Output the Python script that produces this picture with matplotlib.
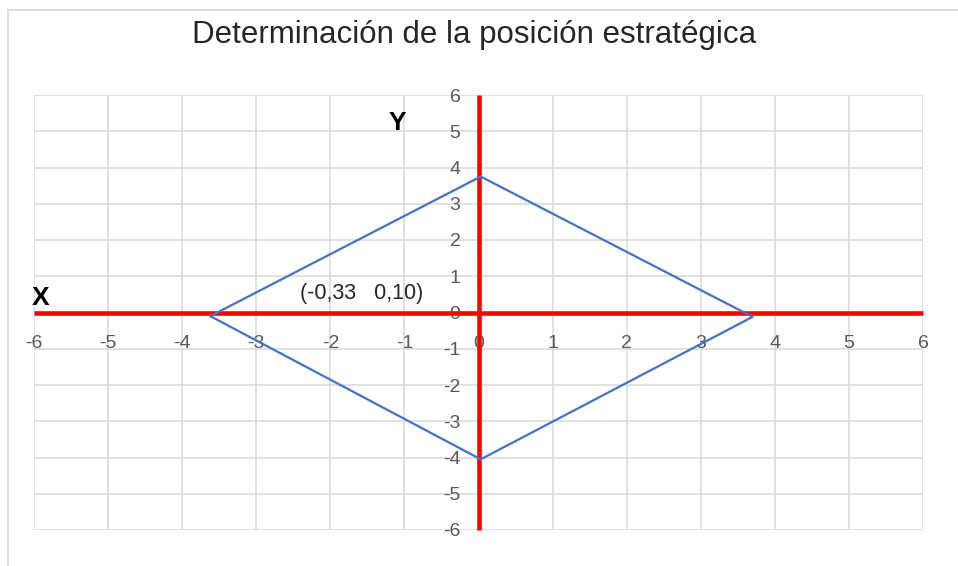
import matplotlib.pyplot as plt
from matplotlib.lines import Line2D

# datos del rombo (posicion estrategica)
px = [-3.62, 0.03, 3.70, 0.03, -3.62]
py = [-0.10, 3.75, -0.12, -4.05, -0.10]
ticks = [-6, -5, -4, -3, -2, -1, 0, 1, 2, 3, 4, 5, 6]
titulo = "Determinación de la posición estratégica"
etiqueta = "(-0,33   0,10)"

plt.rcParams['font.family'] = ['Liberation Sans', 'DejaVu Sans']
plt.rcParams['axes.unicode_minus'] = False

fig = plt.figure(figsize=(9.58, 5.66), dpi=100)
ax = fig.add_axes([34/958, 1 - 530/566, (923 - 34)/958, (530 - 95)/566])

ax.set_xlim(-6, 6)
ax.set_ylim(-6, 6)
ax.set_xticks(ticks)
ax.set_yticks(ticks)
ax.grid(True, color="#d9d9d9", linewidth=1.1)
ax.set_axisbelow(True)

# ejes rojos en el cero
for s in ["top", "right"]:
    ax.spines[s].set_visible(False)
ax.spines["left"].set_position("zero")
ax.spines["bottom"].set_position("zero")
ax.spines["left"].set_color("#ff0000")
ax.spines["bottom"].set_color("#ff0000")
ax.spines["left"].set_linewidth(3.3)
ax.spines["bottom"].set_linewidth(3.3)
ax.spines["left"].set_capstyle("butt")
ax.spines["bottom"].set_capstyle("butt")
ax.tick_params(axis="x", length=0, pad=16, labelsize=14, labelcolor="#595959")
ax.tick_params(axis="y", length=0, pad=13, labelsize=14, labelcolor="#595959")

ax.plot(px, py, color="#4472c4", linewidth=1.6, zorder=3)

ax.text(-5.91, 0.39, "X", fontsize=19, fontweight="bold", ha="center", va="center")
ax.text(-1.09, 5.24, "Y", fontsize=19, fontweight="bold", ha="center", va="center")
ax.text(-1.58, 0.52, etiqueta, fontsize=15.5, color="#262626", ha="center", va="center")

fig.text(0.5 * (186 + 763) / 958, 1 - 35/566, titulo, fontsize=22.5, color="#262626",
         ha="center", va="center")

# borde del grafico
fig.add_artist(Line2D([8/958, 8/958], [0, 1 - 10/566], transform=fig.transFigure,
                      color="#d9d9d9", linewidth=1.2))
fig.add_artist(Line2D([8/958, 1], [1 - 10/566, 1 - 10/566], transform=fig.transFigure,
                      color="#d9d9d9", linewidth=1.2))

fig.savefig("out.png", dpi=100)
